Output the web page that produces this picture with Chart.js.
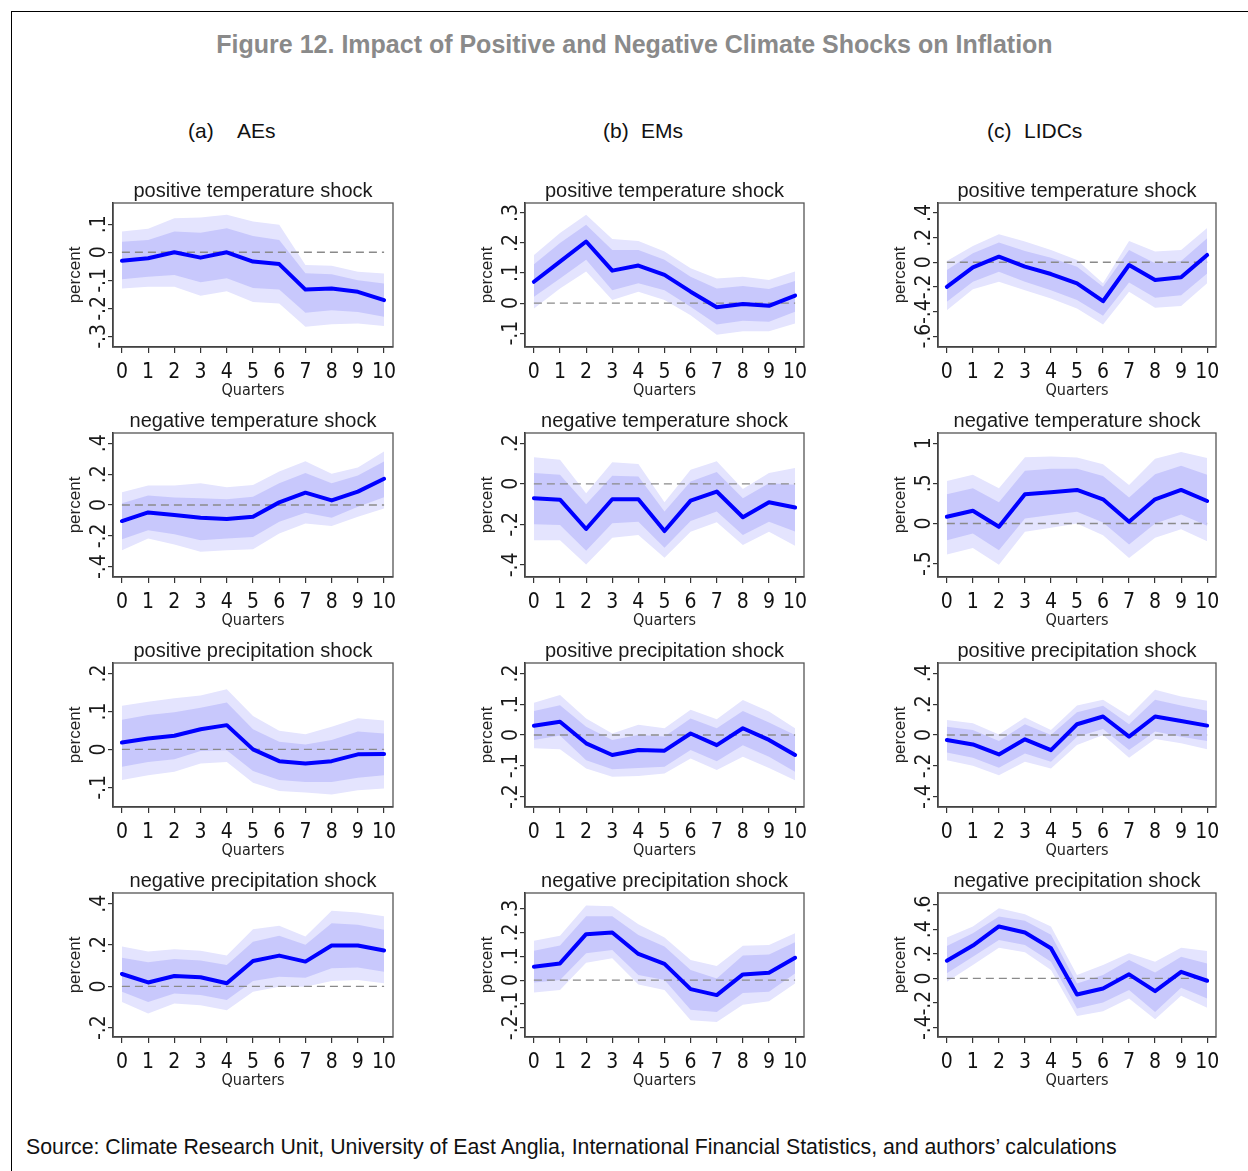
<!DOCTYPE html>
<html><head><meta charset="utf-8">
<script src="https://cdn.jsdelivr.net/npm/chart.js@4.4.1/dist/chart.umd.min.js"></script>
<style>
html,body{margin:0;padding:0;background:#fff;width:1248px;height:1171px;overflow:hidden;font-family:'Liberation Sans',Arial,sans-serif;}
#frame{position:absolute;left:11px;top:11px;width:1400px;height:1400px;border-left:1.5px solid #000;border-top:1.5px solid #000;}
.txt{position:absolute;white-space:pre;line-height:1;color:#111;}
canvas{position:absolute;}
</style></head><body>
<div id="frame"></div>
<div class="txt" style="left:0;width:1269px;text-align:center;top:32px;font-weight:bold;font-size:25px;color:#8a8a8a">Figure 12. Impact of Positive and Negative Climate Shocks on Inflation</div>
<div class="txt" style="left:188px;top:120px;font-size:21px">(a)</div>
<div class="txt" style="left:237px;top:120px;font-size:21px">AEs</div>
<div class="txt" style="left:603px;top:120px;font-size:21px">(b)</div>
<div class="txt" style="left:641px;top:120px;font-size:21px">EMs</div>
<div class="txt" style="left:987px;top:120px;font-size:21px">(c)</div>
<div class="txt" style="left:1024px;top:120px;font-size:21px">LIDCs</div>
<div class="txt" style="left:26px;top:1137px;font-size:21.3px">Source: Climate Research Unit, University of East Anglia, International Financial Statistics, and authors’ calculations</div>
<script>
// ---------- DATA ----------
const quarters = [0,1,2,3,4,5,6,7,8,9,10];
const shockTitles = ['positive temperature shock','negative temperature shock','positive precipitation shock','negative precipitation shock'];

// AEs - positive temperature
const aePosTempIrf  = [-0.030,-0.021,0.000,-0.019,0.000,-0.033,-0.042,-0.133,-0.129,-0.141,-0.171];
const aePosTempHi68 = [0.038,0.044,0.074,0.070,0.086,0.058,0.044,-0.075,-0.078,-0.100,-0.111];
const aePosTempLo68 = [-0.096,-0.087,-0.081,-0.107,-0.093,-0.127,-0.133,-0.216,-0.207,-0.213,-0.230];
const aePosTempHi90 = [0.074,0.084,0.122,0.124,0.134,0.110,0.098,-0.045,-0.048,-0.069,-0.076];
const aePosTempLo90 = [-0.129,-0.123,-0.123,-0.155,-0.139,-0.177,-0.183,-0.266,-0.257,-0.254,-0.263];
const aePosTempTicks = [-0.3,-0.2,-0.1,0,0.1];
const aePosTempTickLabels = ['-.3','-.2','-.1','0','.1'];

// EMs - positive temperature
const emPosTempIrf  = [0.071,0.138,0.205,0.108,0.125,0.094,0.038,-0.014,-0.003,-0.009,0.025];
const emPosTempHi68 = [0.129,0.200,0.261,0.177,0.177,0.144,0.088,0.049,0.057,0.047,0.074];
const emPosTempLo68 = [0.021,0.082,0.144,0.043,0.066,0.043,-0.012,-0.071,-0.059,-0.062,-0.029];
const emPosTempHi90 = [0.160,0.233,0.294,0.213,0.207,0.172,0.116,0.082,0.088,0.077,0.105];
const emPosTempLo90 = [-0.018,0.049,0.105,0.010,0.038,0.010,-0.040,-0.105,-0.094,-0.094,-0.068];
const emPosTempTicks = [-0.1,0,0.1,0.2,0.3];
const emPosTempTickLabels = ['-.1','0','.1','.2','.3'];

// LIDCs - positive temperature
const liPosTempIrf  = [-0.199,-0.041,0.046,-0.035,-0.095,-0.171,-0.316,-0.022,-0.144,-0.122,0.060];
const liPosTempHi68 = [-0.063,0.073,0.161,0.093,0.038,-0.035,-0.199,0.101,-0.008,0.011,0.196];
const liPosTempLo68 = [-0.321,-0.158,-0.076,-0.158,-0.226,-0.307,-0.435,-0.163,-0.288,-0.267,-0.090];
const liPosTempHi90 = [0.011,0.133,0.229,0.169,0.101,0.019,-0.171,0.174,0.087,0.101,0.278];
const liPosTempLo90 = [-0.389,-0.218,-0.158,-0.226,-0.294,-0.376,-0.506,-0.239,-0.370,-0.354,-0.171];
const liPosTempTicks = [-0.6,-0.4,-0.2,0,0.2,0.4];
const liPosTempTickLabels = ['-.6','-.4','-.2','0','.2','.4'];

// AEs - negative temperature
const aeNegTempIrf  = [-0.104,-0.048,-0.065,-0.083,-0.091,-0.076,0.017,0.080,0.030,0.087,0.170];
const aeNegTempHi68 = [0.011,0.061,0.048,0.043,0.037,0.054,0.141,0.207,0.141,0.191,0.283];
const aeNegTempLo68 = [-0.222,-0.163,-0.189,-0.228,-0.217,-0.207,-0.109,-0.050,-0.083,-0.011,0.050];
const aeNegTempHi90 = [0.083,0.126,0.126,0.141,0.115,0.130,0.217,0.283,0.202,0.243,0.348];
const aeNegTempLo90 = [-0.293,-0.217,-0.257,-0.304,-0.293,-0.287,-0.185,-0.120,-0.137,-0.076,-0.022];
const aeNegTempTicks = [-0.4,-0.2,0,0.2,0.4];
const aeNegTempTickLabels = ['-.4','-.2','0','.2','.4'];

// EMs - negative temperature
const emNegTempIrf  = [-0.071,-0.078,-0.223,-0.076,-0.076,-0.233,-0.083,-0.038,-0.165,-0.091,-0.117];
const emNegTempHi68 = [0.053,0.045,-0.101,0.040,0.036,-0.137,0.012,0.058,-0.071,0.003,-0.005];
const emNegTempLo68 = [-0.200,-0.203,-0.331,-0.195,-0.187,-0.316,-0.183,-0.137,-0.253,-0.187,-0.236];
const emNegTempHi90 = [0.131,0.119,-0.046,0.107,0.098,-0.091,0.069,0.111,-0.026,0.053,0.078];
const emNegTempLo90 = [-0.278,-0.278,-0.398,-0.266,-0.253,-0.365,-0.236,-0.190,-0.302,-0.236,-0.306];
const emNegTempTicks = [-0.4,-0.2,0,0.2];
const emNegTempTickLabels = ['-.4','-.2','0','.2'];

// LIDCs - negative temperature
const liNegTempIrf  = [0.084,0.159,-0.042,0.363,0.388,0.418,0.301,0.021,0.301,0.418,0.280];
const liNegTempHi68 = [0.363,0.439,0.263,0.656,0.681,0.681,0.593,0.322,0.614,0.718,0.606];
const liNegTempLo68 = [-0.209,-0.125,-0.334,0.063,0.104,0.146,0.013,-0.263,0.000,0.113,-0.029];
const liNegTempHi90 = [0.530,0.606,0.439,0.827,0.835,0.823,0.739,0.480,0.806,0.890,0.815];
const liNegTempLo90 = [-0.388,-0.305,-0.514,-0.104,-0.054,0.000,-0.146,-0.430,-0.180,-0.071,-0.221];
const liNegTempTicks = [-0.5,0,0.5,1];
const liNegTempTickLabels = ['-.5','0','.5','1'];

// AEs - positive precipitation
const aePosPrecIrf  = [0.018,0.029,0.036,0.053,0.064,0.000,-0.031,-0.037,-0.031,-0.013,-0.012];
const aePosPrecHi68 = [0.078,0.091,0.098,0.110,0.124,0.053,0.020,0.013,0.025,0.047,0.042];
const aePosPrecLo68 = [-0.046,-0.033,-0.026,-0.004,-0.002,-0.057,-0.081,-0.086,-0.086,-0.075,-0.068];
const aePosPrecHi90 = [0.115,0.126,0.135,0.142,0.159,0.088,0.049,0.040,0.060,0.082,0.076];
const aePosPrecLo90 = [-0.081,-0.068,-0.059,-0.037,-0.033,-0.088,-0.110,-0.114,-0.119,-0.108,-0.103];
const aePosPrecTicks = [-0.1,0,0.1,0.2];
const aePosPrecTickLabels = ['-.1','0','.1','.2'];

// EMs - positive precipitation
const emPosPrecIrf  = [0.030,0.043,-0.027,-0.065,-0.049,-0.051,0.005,-0.033,0.022,-0.016,-0.065];
const emPosPrecHi68 = [0.078,0.097,0.027,-0.016,0.000,-0.005,0.054,0.022,0.078,0.041,0.000];
const emPosPrecLo68 = [-0.016,-0.002,-0.082,-0.111,-0.107,-0.103,-0.049,-0.085,-0.033,-0.071,-0.120];
const emPosPrecHi90 = [0.105,0.130,0.054,0.005,0.033,0.022,0.082,0.051,0.114,0.076,0.022];
const emPosPrecLo90 = [-0.043,-0.046,-0.109,-0.136,-0.133,-0.125,-0.076,-0.114,-0.071,-0.107,-0.147];
const emPosPrecTicks = [-0.2,-0.1,0,0.1,0.2];
const emPosPrecTickLabels = ['-.2','-.1','0','.1','.2'];

// LIDCs - positive precipitation
const liPosPrecIrf  = [-0.033,-0.061,-0.126,-0.028,-0.098,0.070,0.120,-0.011,0.120,0.091,0.061];
const liPosPrecHi68 = [0.054,0.033,-0.039,0.070,0.000,0.148,0.189,0.070,0.228,0.191,0.157];
const liPosPrecLo68 = [-0.113,-0.148,-0.213,-0.120,-0.174,-0.011,0.039,-0.098,0.022,-0.011,-0.039];
const liPosPrecHi90 = [0.098,0.076,0.004,0.113,0.033,0.191,0.228,0.124,0.293,0.250,0.222];
const liPosPrecLo90 = [-0.163,-0.200,-0.261,-0.174,-0.217,-0.065,0.000,-0.148,-0.026,-0.054,-0.093];
const liPosPrecTicks = [-0.4,-0.2,0,0.2,0.4];
const liPosPrecTickLabels = ['-.4','-.2','0','.2','.4'];

// AEs - negative precipitation
const aeNegPrecIrf  = [0.060,0.019,0.050,0.044,0.015,0.123,0.149,0.120,0.198,0.198,0.174];
const aeNegPrecHi68 = [0.139,0.117,0.133,0.125,0.104,0.216,0.245,0.201,0.306,0.298,0.274];
const aeNegPrecLo68 = [-0.026,-0.075,-0.034,-0.042,-0.066,0.026,0.047,0.042,0.088,0.091,0.071];
const aeNegPrecHi90 = [0.193,0.169,0.180,0.172,0.149,0.277,0.293,0.242,0.366,0.358,0.339];
const aeNegPrecLo90 = [-0.075,-0.131,-0.083,-0.091,-0.115,-0.026,-0.002,-0.002,0.026,0.031,0.015];
const aeNegPrecTicks = [-0.2,0,0.2,0.4];
const aeNegPrecTickLabels = ['-.2','0','.2','.4'];

// EMs - negative precipitation
const emNegPrecIrf  = [0.056,0.070,0.193,0.200,0.110,0.068,-0.038,-0.063,0.024,0.031,0.094];
const emNegPrecHi68 = [0.123,0.145,0.268,0.268,0.190,0.141,0.042,0.007,0.103,0.108,0.159];
const emNegPrecLo68 = [-0.010,0.000,0.113,0.127,0.021,0.000,-0.124,-0.134,-0.054,-0.049,0.028];
const emNegPrecHi90 = [0.165,0.186,0.314,0.310,0.235,0.179,0.085,0.059,0.144,0.148,0.197];
const emNegPrecLo90 = [-0.052,-0.042,0.073,0.092,-0.018,-0.042,-0.169,-0.176,-0.103,-0.089,-0.014];
const emNegPrecTicks = [-0.2,-0.1,0,0.1,0.2,0.3];
const emNegPrecTickLabels = ['-.2','-.1','0','.1','.2','.3'];

// LIDCs - negative precipitation
const liNegPrecIrf  = [0.144,0.267,0.422,0.373,0.245,-0.131,-0.082,0.033,-0.103,0.054,-0.019];
const liNegPrecHi68 = [0.264,0.367,0.503,0.468,0.354,-0.041,0.027,0.150,0.049,0.177,0.122];
const liNegPrecLo68 = [0.041,0.177,0.313,0.272,0.136,-0.245,-0.196,-0.095,-0.272,-0.076,-0.163];
const liNegPrecHi90 = [0.332,0.422,0.571,0.522,0.422,0.027,0.109,0.204,0.136,0.250,0.223];
const liNegPrecLo90 = [-0.027,0.109,0.250,0.212,0.068,-0.305,-0.267,-0.163,-0.332,-0.141,-0.239];
const liNegPrecTicks = [-0.4,-0.2,0,0.2,0.4,0.6];
const liNegPrecTickLabels = ['-.4','-.2','0','.2','.4','.6'];

// ---------- PANEL TABLE ----------
const panels = [
 {row:0,col:0,irf:aePosTempIrf,hi68:aePosTempHi68,lo68:aePosTempLo68,hi90:aePosTempHi90,lo90:aePosTempLo90,ticks:aePosTempTicks,labels:aePosTempTickLabels,yMin:-0.338,yMax:0.176},
 {row:0,col:1,irf:emPosTempIrf,hi68:emPosTempHi68,lo68:emPosTempLo68,hi90:emPosTempHi90,lo90:emPosTempLo90,ticks:emPosTempTicks,labels:emPosTempTickLabels,yMin:-0.146,yMax:0.333},
 {row:0,col:2,irf:liPosTempIrf,hi68:liPosTempHi68,lo68:liPosTempLo68,hi90:liPosTempHi90,lo90:liPosTempLo90,ticks:liPosTempTicks,labels:liPosTempTickLabels,yMin:-0.688,yMax:0.482},
 {row:1,col:0,irf:aeNegTempIrf,hi68:aeNegTempHi68,lo68:aeNegTempLo68,hi90:aeNegTempHi90,lo90:aeNegTempLo90,ticks:aeNegTempTicks,labels:aeNegTempTickLabels,yMin:-0.467,yMax:0.467},
 {row:1,col:1,irf:emNegTempIrf,hi68:emNegTempHi68,lo68:emNegTempLo68,hi90:emNegTempHi90,lo90:emNegTempLo90,ticks:emNegTempTicks,labels:emNegTempTickLabels,yMin:-0.460,yMax:0.251},
 {row:1,col:2,irf:liNegTempIrf,hi68:liNegTempHi68,lo68:liNegTempLo68,hi90:liNegTempHi90,lo90:liNegTempLo90,ticks:liNegTempTicks,labels:liNegTempTickLabels,yMin:-0.668,yMax:1.128},
 {row:2,col:0,irf:aePosPrecIrf,hi68:aePosPrecHi68,lo68:aePosPrecLo68,hi90:aePosPrecHi90,lo90:aePosPrecLo90,ticks:aePosPrecTicks,labels:aePosPrecTickLabels,yMin:-0.152,yMax:0.228},
 {row:2,col:1,irf:emPosPrecIrf,hi68:emPosPrecHi68,lo68:emPosPrecLo68,hi90:emPosPrecHi90,lo90:emPosPrecLo90,ticks:emPosPrecTicks,labels:emPosPrecTickLabels,yMin:-0.234,yMax:0.234},
 {row:2,col:2,irf:liPosPrecIrf,hi68:liPosPrecHi68,lo68:liPosPrecLo68,hi90:liPosPrecHi90,lo90:liPosPrecLo90,ticks:liPosPrecTicks,labels:liPosPrecTickLabels,yMin:-0.467,yMax:0.467},
 {row:3,col:0,irf:aeNegPrecIrf,hi68:aeNegPrecHi68,lo68:aeNegPrecLo68,hi90:aeNegPrecHi90,lo90:aeNegPrecLo90,ticks:aeNegPrecTicks,labels:aeNegPrecTickLabels,yMin:-0.245,yMax:0.452},
 {row:3,col:1,irf:emNegPrecIrf,hi68:emNegPrecHi68,lo68:emNegPrecLo68,hi90:emNegPrecHi90,lo90:emNegPrecLo90,ticks:emNegPrecTicks,labels:emNegPrecTickLabels,yMin:-0.239,yMax:0.366},
 {row:3,col:2,irf:liNegPrecIrf,hi68:liNegPrecHi68,lo68:liNegPrecLo68,hi90:liNegPrecHi90,lo90:liNegPrecLo90,ticks:liNegPrecTicks,labels:liNegPrecTickLabels,yMin:-0.476,yMax:0.694},
];

// ---------- LAYOUT / STYLE ----------
const colLeft = [113, 525, 938];
const colWidth = [280, 279, 278];
const rowTop = [203, 433, 663, 893];
const PLOT_H = 144, LEFT_W = 53, TOP_H = 28, RIGHT_W = 14, BOTTOM_H = 53;
const SANS = "'Liberation Sans', Arial, sans-serif";
const NARROW = "'Liberation Sans Narrow', 'Arial Narrow', 'DejaVu Sans Condensed', sans-serif";
const INNER = 'rgb(200,200,252)';
const OUTER = 'rgb(228,228,254)';

const pts = arr => quarters.map((q,i)=>({x:q, y:arr[i]}));

const panelDeco = {
  id:'panelDeco',
  afterDraw(chart, args, opts){
    const ctx = chart.ctx, a = chart.chartArea, y = chart.scales.y;
    ctx.save();
    ctx.strokeStyle = '#555'; ctx.lineWidth = 1.3;
    ctx.strokeRect(a.left, a.top, a.right - a.left, a.bottom - a.top);
    // panel title
    ctx.fillStyle = '#1a1a1a';
    ctx.font = '20px ' + SANS;
    ctx.textAlign = 'center'; ctx.textBaseline = 'alphabetic';
    ctx.fillText(opts.title, (a.left + a.right)/2, a.top - 6);
    // rotated y tick labels
    ctx.font = '21px ' + NARROW;
    opts.ticks.forEach((v,i)=>{
      const py = y.getPixelForValue(v);
      ctx.save();
      ctx.translate(a.left - 8, py);
      ctx.rotate(-Math.PI/2);
      ctx.textAlign = 'center'; ctx.textBaseline = 'alphabetic';
      ctx.fillText(opts.labels[i], 0, 0);
      ctx.restore();
    });
    ctx.restore();
  }
};

panels.forEach(p=>{
  const cv = document.createElement('canvas');
  const w = colWidth[p.col] + LEFT_W + RIGHT_W, h = PLOT_H + TOP_H + BOTTOM_H;
  cv.width = w; cv.height = h;
  cv.style.left = (colLeft[p.col] - LEFT_W) + 'px';
  cv.style.top = (rowTop[p.row] - TOP_H) + 'px';
  cv.style.width = w + 'px'; cv.style.height = h + 'px';
  document.body.appendChild(cv);
  new Chart(cv, {
    type:'line',
    data:{datasets:[
      {label:'irf', data:pts(p.irf), borderColor:'#0000ff', borderWidth:4, borderJoinStyle:'round', borderCapStyle:'round', pointRadius:0, fill:false, order:0},
      {label:'zero', data:pts(quarters.map(()=>0)), borderColor:'#8a8a8a', borderWidth:1.4, borderDash:[8,5], pointRadius:0, fill:false, order:1},
      {label:'hi68', data:pts(p.hi68), borderWidth:0, borderColor:'rgba(0,0,0,0)', backgroundColor:INNER, pointRadius:0, fill:'+1', order:2},
      {label:'lo68', data:pts(p.lo68), borderWidth:0, borderColor:'rgba(0,0,0,0)', pointRadius:0, fill:false, order:2},
      {label:'hi90', data:pts(p.hi90), borderWidth:0, borderColor:'rgba(0,0,0,0)', backgroundColor:OUTER, pointRadius:0, fill:'+1', order:3},
      {label:'lo90', data:pts(p.lo90), borderWidth:0, borderColor:'rgba(0,0,0,0)', pointRadius:0, fill:false, order:3},
    ]},
    options:{
      responsive:false, animation:false, events:[],
      layout:{padding:{top:TOP_H, left:0, right:RIGHT_W, bottom:0}},
      plugins:{legend:{display:false}, tooltip:{enabled:false}, title:{display:false},
        panelDeco:{title:shockTitles[p.row], ticks:p.ticks, labels:p.labels}},
      scales:{
        x:{type:'linear', min:-0.34, max:10.34,
          afterBuildTicks:s=>{s.ticks = quarters.map(v=>({value:v}));},
          afterFit:s=>{s.height = BOTTOM_H;},
          ticks:{font:{family:NARROW,size:21}, color:'#111', padding:7, autoSkip:false, maxRotation:0, minRotation:0, callback:v=>String(v)},
          grid:{drawOnChartArea:false, drawTicks:true, tickLength:6, color:'#333', lineWidth:1.2},
          border:{display:true, color:'#222', width:1.5},
          title:{display:true, text:'Quarters', font:{family:NARROW,size:16}, color:'#222', padding:{top:0,bottom:0}}},
        y:{type:'linear', min:p.yMin, max:p.yMax,
          afterBuildTicks:s=>{s.ticks = p.ticks.map(v=>({value:v}));},
          afterFit:s=>{s.width = LEFT_W;},
          ticks:{display:false},
          grid:{drawOnChartArea:false, drawTicks:true, tickLength:5, color:'#333', lineWidth:1.2},
          border:{display:true, color:'#222', width:1.5},
          title:{display:true, text:'percent', font:{family:SANS,size:17}, color:'#222', padding:{top:5,bottom:0}}}
      }
    },
    plugins:[panelDeco]
  });
});
</script>
</body></html>
